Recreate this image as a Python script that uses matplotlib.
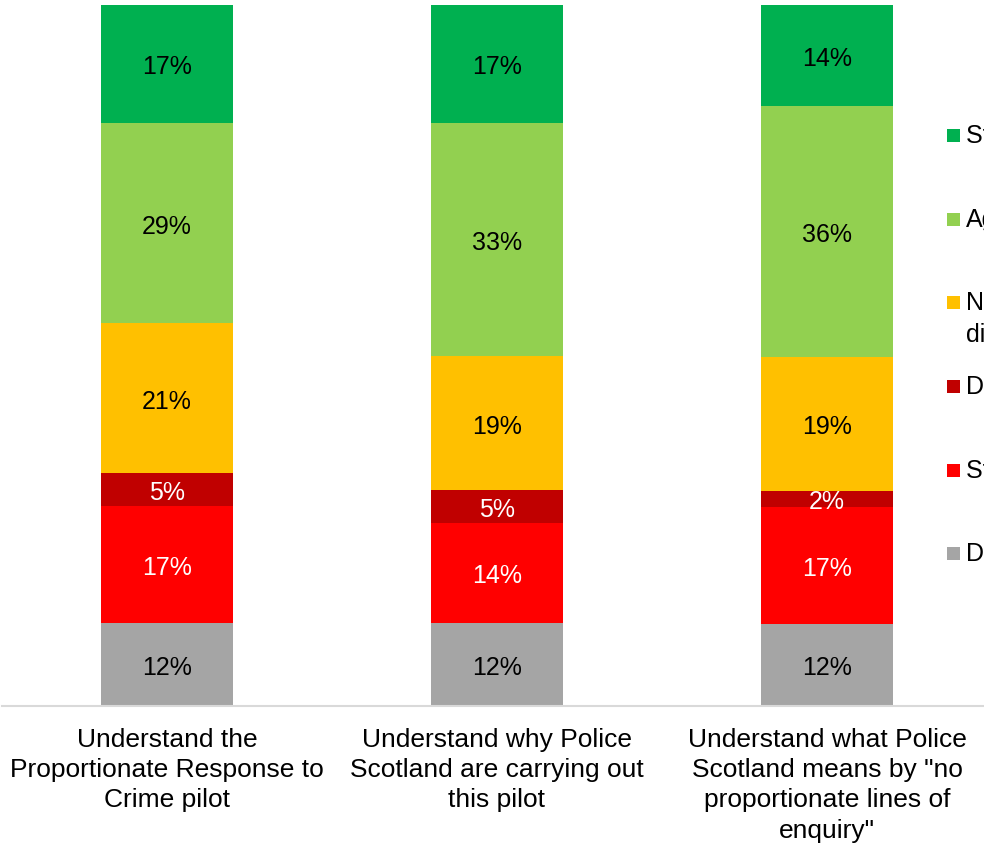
import matplotlib.pyplot as plt
from matplotlib.patches import Rectangle
import numpy as np

plt.rcParams['font.family'] = ['Liberation Sans', 'DejaVu Sans']

categories = ['Understand the\nProportionate Response to\nCrime pilot',
              'Understand why Police\nScotland are carrying out\nthis pilot',
              'Understand what Police\nScotland means by "no\nproportionate lines of\nenquiry"']

# stacked bottom -> top
series = ["Don't know", 'Strongly disagree', 'Disagree',
          'Neither agree nor\ndisagree', 'Agree', 'Strongly agree']
values = {
    "Don't know":                 [11.8, 11.9, 11.7],
    'Strongly disagree':          [16.7, 14.2, 16.7],
    'Disagree':                   [4.7, 4.7, 2.3],
    'Neither agree nor\ndisagree': [21.4, 19.1, 19.1],
    'Agree':                      [28.6, 33.3, 35.8],
    'Strongly agree':             [16.8, 16.8, 14.4],
}
colors = {
    "Don't know": '#A5A5A5',
    'Strongly disagree': '#FF0000',
    'Disagree': '#C00000',
    'Neither agree nor\ndisagree': '#FFC000',
    'Agree': '#92D050',
    'Strongly agree': '#00B050',
}
text_colors = {
    "Don't know": 'black',
    'Strongly disagree': 'white',
    'Disagree': 'white',
    'Neither agree nor\ndisagree': 'black',
    'Agree': 'black',
    'Strongly agree': 'black',
}

W, H = 984, 845
fig = plt.figure(figsize=(W / 100, H / 100), dpi=100)
ax = fig.add_axes([2 / W, 138 / H, 990 / W, 701 / H])

x = np.arange(len(categories))
bottom = np.zeros(len(categories))
for s in series:
    v = np.array(values[s])
    ax.bar(x, v, 0.4, bottom=bottom, color=colors[s], linewidth=0)
    for xi, vi, bi in zip(x, v, bottom):
        ax.text(xi, bi + vi / 2, f'{round(vi)}%', ha='center', va='center_baseline',
                fontsize=18, color=text_colors[s])
    bottom += v

ax.set_xlim(-0.5, 2.5)
ax.set_ylim(0, 100)
ax.set_yticks([])
ax.set_xticks(x)
ax.set_xticklabels(categories, fontsize=19, linespacing=1.33, va='top')
ax.tick_params(axis='x', length=0, pad=15)
for sp in ['top', 'right', 'left']:
    ax.spines[sp].set_visible(False)
ax.spines['bottom'].set_color('#D9D9D9')
ax.spines['bottom'].set_linewidth(1.5)

# legend (cut off at the right edge, as in the original)
leg_y = [136, 220, 303, 387, 471, 554]
for s, yy in zip(series[::-1], leg_y):
    fig.add_artist(Rectangle((947 / W, 1 - (yy + 6.5) / H), 13 / W, 13 / H,
                             transform=fig.transFigure, color=colors[s], lw=0))
    fig.text(966 / W, 1 - (yy - 12) / H, s, fontsize=18, va='top', ha='left',
             linespacing=1.4)

fig.savefig('out.png', dpi=100)
